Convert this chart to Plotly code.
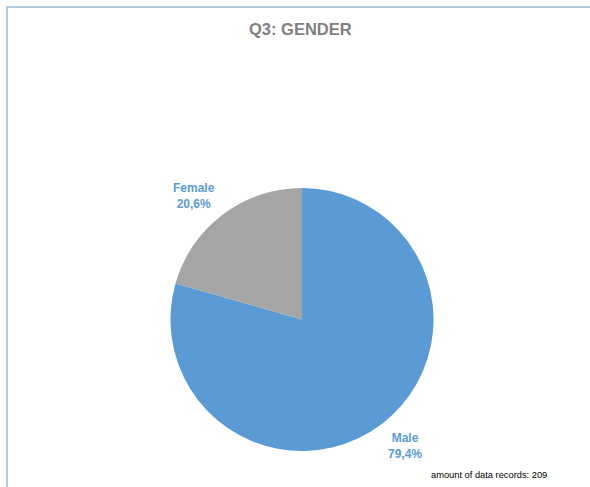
import plotly.graph_objects as go

W, H = 590, 487

# data
genders = ["Male", "Female"]
counts = [166, 43]
slice_colors = ["#5B9BD5", "#A5A5A5"]
title_text = "Q3: GENDER"
footer_text = "amount of data records: %d" % sum(counts)

total = sum(counts)
pcts = [c / total * 100 for c in counts]


def px_x(x):
    return x / W


def px_y(y):
    return 1 - y / H


fig = go.Figure(go.Pie(
    labels=genders,
    values=counts,
    marker=dict(colors=slice_colors, line=dict(width=0)),
    sort=False,
    direction="clockwise",
    rotation=0,
    textinfo="none",
    hoverinfo="label+percent",
    showlegend=False,
    domain=dict(x=[px_x(170), px_x(434)], y=[px_y(451), px_y(188)]),
))

# label positions (pixel coords in the reference)
label_pos = {"Female": (194, 196), "Male": (405, 446)}
annotations = []
for g, p in zip(genders, pcts):
    lx, ly = label_pos[g]
    annotations.append(dict(
        x=px_x(lx), y=px_y(ly), xref="paper", yref="paper",
        text="<b>%s<br>%s%%</b>" % (g, ("%.1f" % p).replace(".", ",")),
        showarrow=False, xanchor="center", yanchor="middle", align="center",
        font=dict(family="Liberation Sans, Arial", size=12, color="#5B9BD5"),
    ))

annotations.append(dict(
    x=px_x(301), y=px_y(29), xref="paper", yref="paper",
    text="<b>%s</b>" % title_text, showarrow=False,
    xanchor="center", yanchor="middle",
    font=dict(family="Liberation Sans, Arial", size=16.5, color="#7F7F7F"),
))
annotations.append(dict(
    x=px_x(549), y=px_y(475), xref="paper", yref="paper",
    text=footer_text, showarrow=False,
    xanchor="right", yanchor="middle",
    font=dict(family="Liberation Sans, Arial", size=9.3, color="#000000"),
))

# clipped chart frame (only left and top edges visible)
frame = dict(type="path", xref="paper", yref="paper",
             path="M %f,%f L %f,%f L %f,%f" % (px_x(7), px_y(H), px_x(7), px_y(7), px_x(W), px_y(7)),
             line=dict(color="#B4C9DC", width=2))

fig.update_layout(
    width=W, height=H,
    margin=dict(l=0, r=0, t=0, b=0),
    paper_bgcolor="white",
    plot_bgcolor="white",
    annotations=annotations,
    shapes=[frame],
)

fig.write_html("out.html", config={"displayModeBar": False},
               post_script="document.body.style.margin='0';")
